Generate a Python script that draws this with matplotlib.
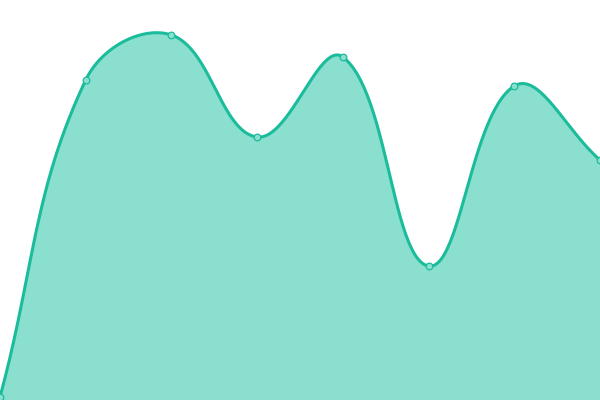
import numpy as np
import matplotlib
matplotlib.use('Agg')
import matplotlib.pyplot as plt

labels = ['A', 'B', 'C', 'D', 'E', 'F', 'G', 'H']
values = [3, 320, 365, 263, 343, 134, 314, 240]

W, H = 600, 400
YMAX = 400
LINE = '#1abc9c'
FILL = '#8adfce'


def spline(px, py, t=0.4):
	# chart.js style cubic bezier control points
	n = len(px)
	c1 = []
	c2 = []
	for i in range(n):
		p0 = (px[max(i - 1, 0)], py[max(i - 1, 0)])
		p1 = (px[i], py[i])
		p2 = (px[min(i + 1, n - 1)], py[min(i + 1, n - 1)])
		d01 = np.hypot(p1[0] - p0[0], p1[1] - p0[1])
		d12 = np.hypot(p2[0] - p1[0], p2[1] - p1[1])
		s01 = d01 / (d01 + d12) if d01 + d12 else 0
		s12 = d12 / (d01 + d12) if d01 + d12 else 0
		fa, fb = t * s01, t * s12
		c1.append((p1[0] - fa * (p2[0] - p0[0]), p1[1] - fa * (p2[1] - p0[1])))
		c2.append((p1[0] + fb * (p2[0] - p0[0]), p1[1] + fb * (p2[1] - p0[1])))
	xs, ys = [], []
	s = np.linspace(0, 1, 60)
	for i in range(n - 1):
		a = np.array([px[i], py[i]])
		b = np.array(c2[i])
		c = np.array(c1[i + 1])
		d = np.array([px[i + 1], py[i + 1]])
		pts = ((1 - s)[:, None] ** 3 * a + 3 * ((1 - s) ** 2 * s)[:, None] * b
			+ 3 * ((1 - s) * s ** 2)[:, None] * c + (s ** 3)[:, None] * d)
		xs.extend(pts[:, 0])
		ys.extend(pts[:, 1])
	return np.array(xs), np.array(ys)


x = np.arange(len(values))
step = W / (len(values) - 1)
px = x * step
py = np.array(values) * H / YMAX
cx, cy = spline(px, py)
cx = cx / step
cy = cy * YMAX / H

fig = plt.figure(figsize=(6, 4), dpi=100)
ax = fig.add_axes([0, 0, 1, 1])
ax.fill_between(cx, cy, 0, color=FILL, lw=0)
ax.plot(cx, cy, color=LINE, lw=2.2, solid_capstyle='round')
ax.plot(x, values, 'o', ms=4.8, mfc=FILL, mec=LINE, mew=0.9, clip_on=False)
ax.set_xlim(0, len(values) - 1)
ax.set_ylim(0, YMAX)
ax.axis('off')
fig.savefig('out.png', dpi=100)
